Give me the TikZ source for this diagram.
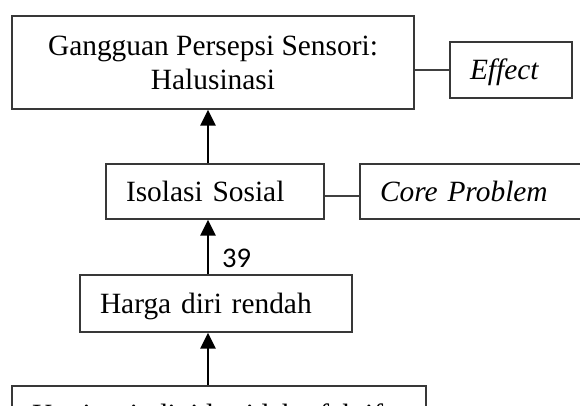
\documentclass[tikz,border=0pt]{standalone}
\usepackage{fontspec}
\setmainfont{Liberation Serif}
\newfontfamily\calibrifont{Carlito}
\usetikzlibrary{arrows.meta}
\begin{document}
\begin{tikzpicture}[x=1pt,y=-1pt,
  box/.style={draw=black!78, line width=1.3pt, rectangle, inner sep=0pt,
    font=\fontsize{29.4}{34}\selectfont},
  lbox/.style={box, align=left, inner xsep=20pt, text height=20pt, text depth=0pt},
  link/.style={draw=black!75, line width=1.2pt},
  up/.style={line width=2.4pt, -{Triangle[width=15pt,length=16pt]}}
]
\useasboundingbox (0,0) rectangle (580,406);
\clip (0,0) rectangle (580,406);
\coordinate (ax) at (208,0);
\node[box, minimum width=402pt, minimum height=93pt, align=center] (gps) at (213,62.5)
  {Gangguan Persepsi Sensori:\\Halusinasi};
\node[lbox, text width=82pt, minimum height=56pt, font=\fontsize{29.4}{34}\selectfont\itshape] (eff) at (511,70) {Effect};
\node[lbox, text width=178pt, minimum height=55pt] (iso) at (215,191.5) {Isolasi Sosial};
\node[lbox, text width=200pt, minimum height=55pt, font=\fontsize{29.4}{34}\selectfont\itshape] (core) at (480,191.5) {Core Problem};
\node[lbox, text width=232pt, minimum height=57pt] (hdr) at (216,303.5) {Harga diri rendah};
\node[lbox, text width=374pt, minimum height=56pt] (kop) at (219,414) {Koping individu tidak efektif};
\node[anchor=base west, inner sep=0pt, font=\calibrifont\fontsize{28.5}{34}\selectfont] (num) at (222,267) {39};
\draw[link] (eff.west) -- (eff.west -| gps.east);
\draw[link] ([yshift=-4.5pt]core.west) -- ([yshift=-4.5pt]core.west -| iso.east);
\draw[up] (iso.north -| ax) -- (gps.south -| ax);
\draw[up] (hdr.north -| ax) -- (iso.south -| ax);
\draw[up] (kop.north -| ax) -- (hdr.south -| ax);
\end{tikzpicture}
\end{document}
